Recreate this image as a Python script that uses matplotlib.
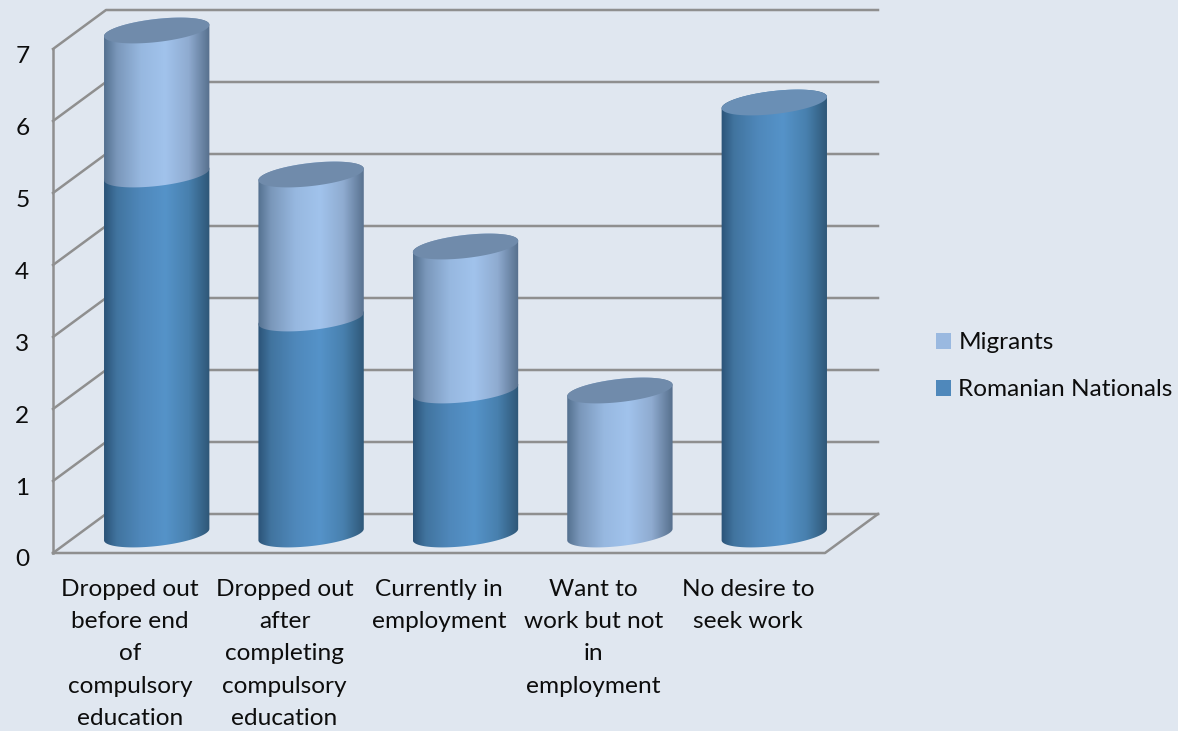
import numpy as np
import matplotlib
matplotlib.use("Agg")
import matplotlib.pyplot as plt
from matplotlib.patches import Patch, Polygon
from matplotlib.colors import LinearSegmentedColormap
from matplotlib.transforms import ScaledTranslation

categories = ["Dropped out\nbefore end\nof\ncompulsory\neducation",
              "Dropped out\nafter\ncompleting\ncompulsory\neducation",
              "Currently in\nemployment",
              "Want to\nwork but not\nin\nemployment",
              "No desire to\nseek work"]
romanian = [5, 3, 2, 0, 6]
migrants = [2, 2, 2, 2, 0]
y_ticks = [0, 1, 2, 3, 4, 5, 6, 7]

W, H = 1178, 731
BG = "#e0e7f0"
GRID = "#8f8f8f"
TEXT = "#0d0d0d"
FS = 17.6
plt.rcParams["font.family"] = ["Lato", "DejaVu Sans"]

fig = plt.figure(figsize=(W / 100, H / 100), dpi=100, facecolor=BG)
L, R, T, B = 53, 878, 10, 553
ax = fig.add_axes([L / W, 1 - B / H, (R - L) / W, (B - T) / H], facecolor="none")

PX_X = 154.4   # pixels per category
PX_Y = 72.0    # pixels per value unit
DEPTH_X, DEPTH_Y = 53 / PX_X, 39 / PX_Y
xlim = (-0.5, 4.5 + DEPTH_X)
ylim = (0, 7 + DEPTH_Y)

cm_light = LinearSegmentedColormap.from_list("l", [(0, "#54708f"), (.12, "#7a97ba"), (.35, "#97b8e0"),
                                                   (.58, "#a1c3ec"), (.8, "#8fabd0"), (1, "#566f8c")])
cm_dark = LinearSegmentedColormap.from_list("d", [(0, "#2b5377"), (.12, "#41749f"), (.35, "#4f88bb"),
                                                  (.58, "#5593c9"), (.8, "#4880ae"), (1, "#2e5676")])
CAP_LIGHT, CAP_DARK = "#708bab", "#6a8fb5"

# wall and floor
line = dict(color=GRID, lw=1.8, clip_on=False, zorder=1, solid_capstyle="projecting")
x0, x1 = xlim[0], 4.5
for v in y_ticks:
    ax.plot([x0, x0 + DEPTH_X, x1 + DEPTH_X], [v, v + DEPTH_Y, v + DEPTH_Y], **line)
ax.plot([x0, x0], [0, 7], **line)
ax.plot([x0, x1, x1 + DEPTH_X], [0, 0, DEPTH_Y], **line)

# cylinders
A, C, TILT = 53.0, 11.5, np.radians(6.5)
t = np.linspace(0, 2 * np.pi, 361)
ex = (A * np.cos(t) * np.cos(TILT) - C * np.sin(t) * np.sin(TILT)) / PX_X
ey = (A * np.cos(t) * np.sin(TILT) + C * np.sin(t) * np.cos(TILT)) / PX_Y
i_r = int(np.argmax(ex))
# roll so that the outline starts at the right-most point and runs over the back arc
ex_r, ey_r = np.roll(ex[:-1], -i_r), np.roll(ey[:-1], -i_r)
n_l = int(np.argmin(ex_r))
back = np.column_stack([ex_r[:n_l + 1], ey_r[:n_l + 1]])
front = np.column_stack([np.r_[ex_r[n_l:], ex_r[0]], np.r_[ey_r[n_l:], ey_r[0]]])
OFF_X, OFF_Y = DEPTH_X / 2, DEPTH_Y / 2 - 1 / PX_Y


def cylinder(i, v0, v1, cmap, z):
    cx = i + OFF_X
    pts = np.vstack([front + [cx, v0 + OFF_Y], back + [cx, v1 + OFF_Y]])
    clip = Polygon(pts, closed=True, transform=ax.transData, fc="none", ec="none")
    ax.add_patch(clip)
    half = A / PX_X
    im = ax.imshow(np.linspace(0, 1, 256)[None, :], cmap=cmap, aspect="auto", interpolation="bilinear",
                   extent=(cx - half, cx + half, v0 + OFF_Y - 0.3, v1 + OFF_Y + 0.3), zorder=z)
    im.set_clip_path(clip)


for i, (r, m) in enumerate(zip(romanian, migrants)):
    z = 3 + i
    if r > 0:
        cylinder(i, 0, r, cm_dark, z)
    if m > 0:
        cylinder(i, r, r + m, cm_light, z + 0.1)
    top = r + m
    cap = np.column_stack([ex + i + OFF_X, ey + top + OFF_Y])
    ax.add_patch(Polygon(cap, closed=True, fc=CAP_LIGHT if m > 0 else CAP_DARK, ec="none", zorder=z + 0.2))

ax.set_xlim(*xlim)
ax.set_ylim(*ylim)
ax.set_xticks(range(len(categories)))
ax.set_xticklabels(categories, fontsize=FS, color=TEXT, linespacing=1.65)
ax.set_yticks(y_ticks)
ax.set_yticklabels([str(v) for v in y_ticks], fontsize=FS, color=TEXT)
ax.tick_params(axis="x", length=0, pad=19)
ax.tick_params(axis="y", length=0, pad=17)
shift = ScaledTranslation(0, -3.6 / 72, fig.dpi_scale_trans)
for lab in ax.get_yticklabels():
    lab.set_transform(lab.get_transform() + shift)
for s in ax.spines.values():
    s.set_visible(False)

handles = [Patch(fc="#9ab9e0", ec="none", label="Migrants"),
           Patch(fc="#4f88bb", ec="none", label="Romanian Nationals")]
fig.legend(handles=handles, loc="upper left", bbox_to_anchor=(934 / W, 1 - 330 / H), frameon=False,
           fontsize=FS, labelcolor=TEXT, handlelength=0.61, handleheight=0.61,
           handletextpad=0.29, labelspacing=1.06, borderpad=0.1, borderaxespad=0)

fig.savefig("out.png", dpi=100, facecolor=BG)
